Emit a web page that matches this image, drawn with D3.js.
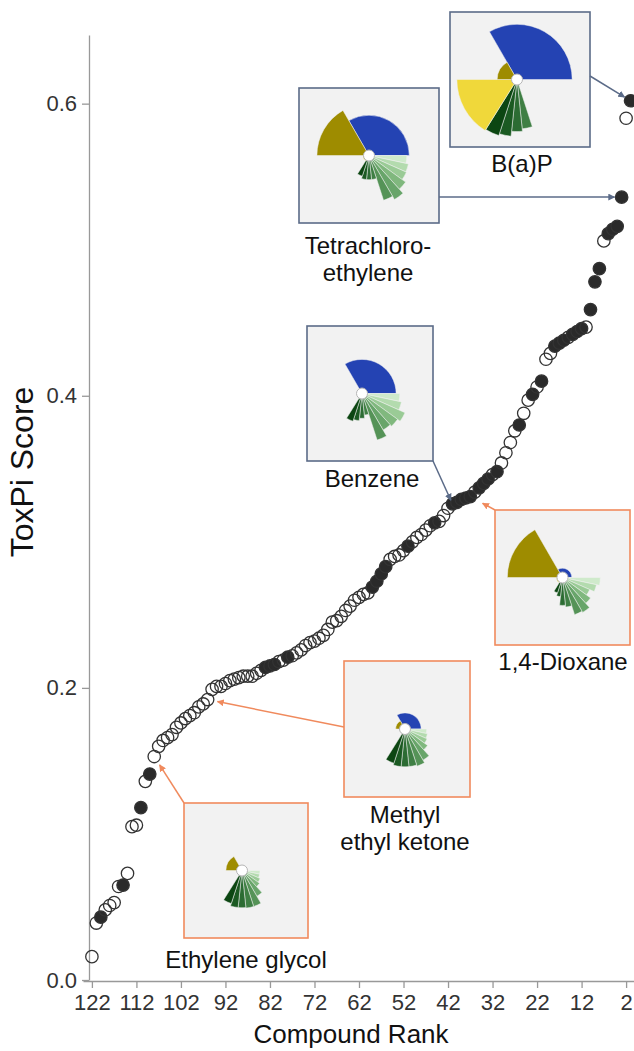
<!DOCTYPE html>
<html>
<head>
<meta charset="utf-8">
<script src="https://cdn.jsdelivr.net/npm/d3@7"></script>
<style>
  body { margin: 0; background: #fff; }
  svg text { font-family: "Liberation Sans", Arial, sans-serif; }
</style>
</head>
<body>
<div id="chart"></div>
<script>
var svgWidth = 634;
var svgHeight = 1051;

// ToxPi score of each compound, ordered by rank (rank 1 first)
var scores = [
  0.602, 0.590, 0.536, 0.516, 0.514, 0.511, 0.506, 0.487, 0.478, 0.459,
  0.447, 0.446, 0.444, 0.442, 0.440, 0.438, 0.436, 0.434, 0.429, 0.425,
  0.410, 0.406, 0.401, 0.397, 0.388, 0.380, 0.376, 0.368, 0.361, 0.354,
  0.348, 0.346, 0.343, 0.340, 0.337, 0.334, 0.331, 0.330, 0.329, 0.327,
  0.326, 0.323, 0.318, 0.314, 0.313, 0.311, 0.308, 0.305, 0.303, 0.300,
  0.297, 0.294, 0.291, 0.290, 0.288, 0.283, 0.278, 0.273, 0.269, 0.265,
  0.264, 0.262, 0.260, 0.256, 0.253, 0.249, 0.246, 0.245, 0.240, 0.236,
  0.234, 0.232, 0.231, 0.229, 0.226, 0.224, 0.222, 0.221, 0.219, 0.218,
  0.216, 0.215, 0.214, 0.212, 0.210, 0.208, 0.208, 0.208, 0.207, 0.206,
  0.205, 0.203, 0.201, 0.201, 0.199, 0.192, 0.189, 0.187, 0.183, 0.181,
  0.179, 0.176, 0.173, 0.168, 0.166, 0.164, 0.160, 0.153, 0.141, 0.136,
  0.118, 0.106, 0.105, 0.073, 0.065, 0.064, 0.053, 0.051, 0.048, 0.043,
  0.039, 0.016
];

// 1 = filled marker, 0 = open marker (same order as scores)
var filled = [
  1, 0, 1, 1, 1, 1, 0, 1, 1, 1,
  0, 1, 1, 1, 0, 1, 1, 1, 0, 0,
  1, 0, 1, 0, 0, 1, 0, 0, 0, 0,
  1, 0, 1, 1, 1, 0, 1, 1, 1, 1,
  1, 0, 0, 0, 1, 0, 0, 0, 0, 0,
  1, 0, 0, 0, 0, 1, 1, 1, 1, 0,
  0, 0, 0, 0, 0, 0, 0, 0, 0, 0,
  0, 0, 0, 0, 0, 0, 0, 1, 0, 0,
  1, 1, 1, 0, 0, 0, 0, 0, 0, 0,
  0, 0, 0, 0, 0, 0, 0, 0, 0, 0,
  0, 0, 0, 0, 0, 0, 0, 0, 1, 0,
  1, 0, 0, 0, 1, 0, 0, 0, 0, 1,
  0, 0
];

var xTicks = [122, 112, 102, 92, 82, 72, 62, 52, 42, 32, 22, 12, 2];
var yTicks = [0, 0.2, 0.4, 0.6];

// ToxPi slices: blue, ten greens, yellow, olive (angles in degrees, clockwise from top)
var sliceStart = [-30, 90, 102, 114, 126, 138, 150, 162, 174, 186, 198, 212, 270];
var sliceEnd   = [ 90, 102, 114, 126, 138, 150, 162, 174, 186, 198, 212, 270, 330];
var sliceColors = ["#2443b3", "#cfeacb", "#b3dbae", "#9acb96", "#80b87e", "#68a56a",
                   "#559357", "#3f7f44", "#2c6c33", "#1b5a22", "#0c4612", "#f0d83a", "#9e8c00"];

// slice scores for each highlighted compound
var bapSlices     = [0.89, 0.07, 0.07, 0.07, 0.07, 0.07, 0.10, 0.80, 0.84, 0.92, 0.95, 0.97, 0.32];
var tetraSlices   = [0.65, 0.61, 0.65, 0.66, 0.73, 0.82, 0.76, 0.39, 0.39, 0.39, 0.35, 0.10, 0.84];
var benzeneSlices = [0.55, 0.61, 0.65, 0.76, 0.71, 0.68, 0.79, 0.35, 0.40, 0.44, 0.47, 0.00, 0.00];
var dioxaneSlices = [0.15, 0.61, 0.56, 0.48, 0.56, 0.65, 0.63, 0.48, 0.45, 0.31, 0.26, 0.10, 0.89];
var mekSlices     = [0.26, 0.35, 0.37, 0.39, 0.45, 0.58, 0.63, 0.61, 0.61, 0.61, 0.58, 0.00, 0.15];
var egSlices      = [0.00, 0.29, 0.29, 0.32, 0.35, 0.48, 0.61, 0.61, 0.60, 0.60, 0.56, 0.00, 0.26];

var slate = "#5b6b88";
var orange = "#f08a5d";

var svg = d3.select("#chart")
  .append("svg")
  .attr("width", svgWidth)
  .attr("height", svgHeight);

var defs = svg.append("defs");
[["arrowSlate", slate], ["arrowOrange", orange]].forEach(function (m) {
  defs.append("marker")
    .attr("id", m[0])
    .attr("viewBox", "0 0 10 10")
    .attr("refX", 9)
    .attr("refY", 5)
    .attr("markerWidth", 7)
    .attr("markerHeight", 7)
    .attr("markerUnits", "userSpaceOnUse")
    .attr("orient", "auto")
    .append("path")
    .attr("d", "M0,0 L10,5 L0,10 z")
    .attr("fill", m[1]);
});

// scales
var x = d3.scaleLinear().domain([124, 0]).range([83, 635]);
var y = d3.scaleLinear().domain([0, 0.647]).range([980, 35]);

// axes
var xAxis = svg.append("g")
  .attr("transform", "translate(0, 981)")
  .call(d3.axisBottom(x).tickValues(xTicks).tickSize(7).tickSizeOuter(0).tickPadding(6));

var yAxis = svg.append("g")
  .attr("transform", "translate(89, 0)")
  .call(d3.axisLeft(y).tickValues(yTicks).tickFormat(d3.format(".1f")).tickSize(7).tickSizeOuter(0).tickPadding(5));

[xAxis, yAxis].forEach(function (ax) {
  ax.selectAll("path, line").attr("stroke", "#999").attr("stroke-width", 1.3);
  ax.selectAll("text")
    .attr("fill", "#333")
    .style("font-size", "22px")
    .style("font-family", "'Liberation Sans', Arial, sans-serif");
});

svg.append("text")
  .attr("transform", "translate(33, 472) rotate(-90)")
  .attr("text-anchor", "middle")
  .attr("fill", "#111")
  .style("font-size", "32px")
  .text("ToxPi Score");

svg.append("text")
  .attr("x", 351)
  .attr("y", 1043)
  .attr("text-anchor", "middle")
  .attr("fill", "#111")
  .style("font-size", "26px")
  .text("Compound Rank");

// points (drawn from lowest rank upward)
var points = scores.map(function (s, i) {
  return { rank: i + 1, score: s, filled: filled[i] };
});

svg.append("g").selectAll("circle")
  .data(points.slice().reverse())
  .enter()
  .append("circle")
  .attr("cx", d => x(d.rank))
  .attr("cy", d => y(d.score))
  .attr("r", 6.2)
  .attr("fill", d => d.filled ? "#2a2a2a" : "none")
  .attr("stroke", "#333")
  .attr("stroke-width", 1.3);

// ToxPi glyph
var rScale = d3.scaleLinear().domain([0, 1]).range([0, 62]);
var arc = d3.arc().innerRadius(0);

function drawToxPi(cx, cy, values) {
  var g = svg.append("g").attr("transform", `translate(${cx}, ${cy})`);
  g.selectAll("path")
    .data(values)
    .enter()
    .append("path")
    .attr("d", (v, i) => arc({
      startAngle: sliceStart[i] * Math.PI / 180,
      endAngle: sliceEnd[i] * Math.PI / 180,
      outerRadius: rScale(v)
    }))
    .attr("fill", (v, i) => sliceColors[i])
    .attr("stroke", "#f2f2f2")
    .attr("stroke-width", 0.5);
  g.append("circle")
    .attr("r", 5.5)
    .attr("fill", "#fff")
    .attr("stroke", "#b5b5b5")
    .attr("stroke-width", 1);
}

// annotation: box, glyph, label and arrow pointing to a ranked point
function annotate(opt) {
  svg.append("rect")
    .attr("x", opt.box[0])
    .attr("y", opt.box[1])
    .attr("width", opt.box[2])
    .attr("height", opt.box[3])
    .attr("fill", "#f2f2f2")
    .attr("stroke", opt.color)
    .attr("stroke-width", 1.6);

  drawToxPi(opt.box[0] + opt.box[2] / 2 + (opt.dx || 0), opt.box[1] + opt.box[3] / 2, opt.slices);

  opt.label.forEach(function (line, i) {
    svg.append("text")
      .attr("x", opt.labelX)
      .attr("y", opt.labelY + i * 27)
      .attr("text-anchor", "middle")
      .attr("fill", "#111")
      .style("font-size", "24px")
      .text(line);
  });

  var tx = x(opt.rank), ty = y(scores[opt.rank - 1]);
  var sx = opt.from[0], sy = opt.from[1];
  var len = Math.hypot(tx - sx, ty - sy);
  var ex = tx - (tx - sx) / len * opt.gap;
  var ey = ty - (ty - sy) / len * opt.gap;
  svg.append("line")
    .attr("x1", sx).attr("y1", sy)
    .attr("x2", ex).attr("y2", ey)
    .attr("stroke", opt.color)
    .attr("stroke-width", 1.5)
    .attr("marker-end", opt.color === orange ? "url(#arrowOrange)" : "url(#arrowSlate)");
}

annotate({ box: [450, 12, 140, 135], color: slate, slices: bapSlices, dx: -3,
  label: ["B(a)P"], labelX: 522, labelY: 172, rank: 1, from: [590, 76], gap: 7 });
annotate({ box: [299, 88, 140, 135], color: slate, slices: tetraSlices,
  label: ["Tetrachloro-", "ethylene"], labelX: 368, labelY: 254, rank: 3, from: [439, 197], gap: 7 });
annotate({ box: [307, 326, 126, 135], color: slate, slices: benzeneSlices, dx: -8,
  label: ["Benzene"], labelX: 372, labelY: 487, rank: 41, from: [433, 461], gap: 4 });
annotate({ box: [495, 510, 135, 135], color: orange, slices: dioxaneSlices,
  label: ["1,4-Dioxane"], labelX: 563, labelY: 670, rank: 37, from: [495, 510], gap: 14 });
annotate({ box: [344, 661, 126, 136], color: orange, slices: mekSlices, dx: -2,
  label: ["Methyl", "ethyl ketone"], labelX: 405, labelY: 823, rank: 96, from: [344, 727], gap: 10 });
annotate({ box: [184, 803, 124, 135], color: orange, slices: egSlices, dx: -4,
  label: ["Ethylene glycol"], labelX: 246, labelY: 968, rank: 108, from: [184, 803], gap: 10 });
</script>
</body>
</html>
